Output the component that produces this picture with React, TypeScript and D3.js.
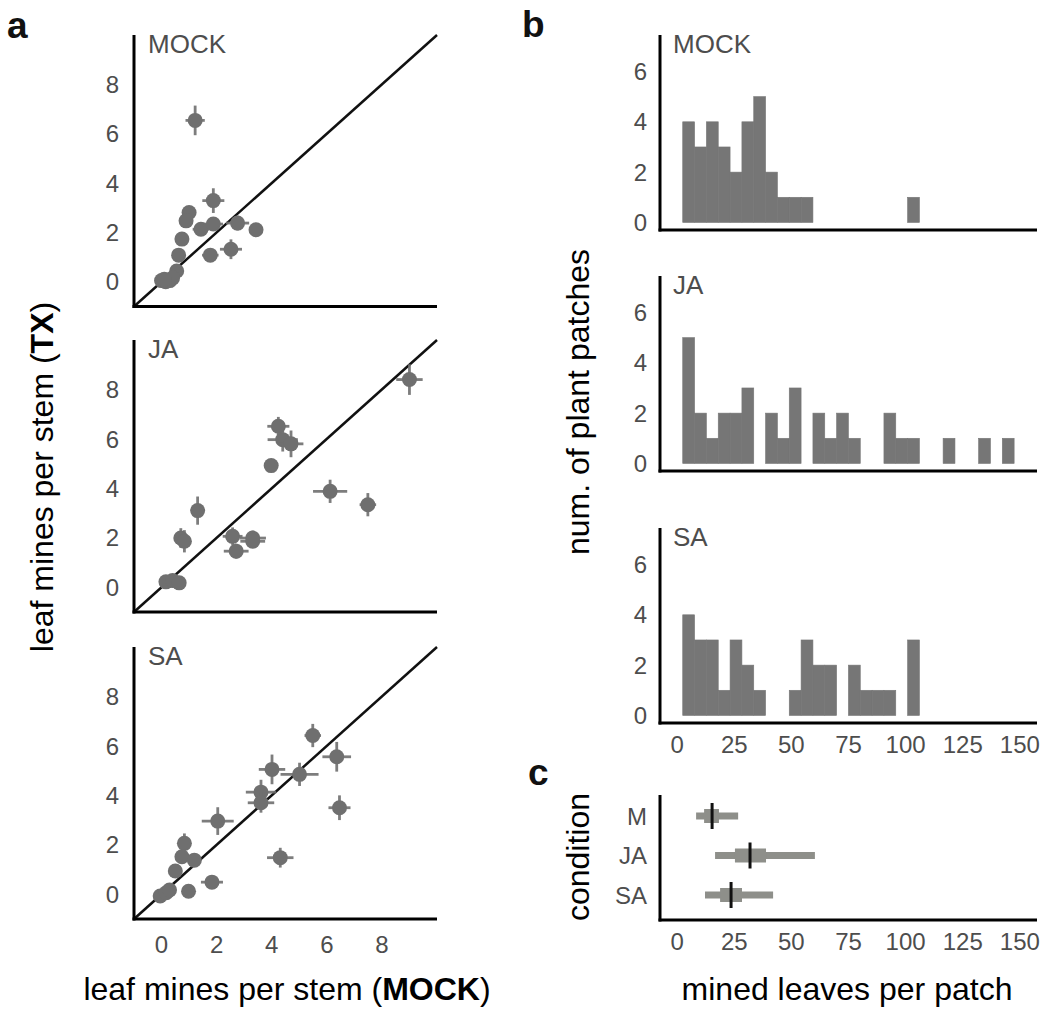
import React from "react";
import * as d3 from "d3";

// ---------- DATA ----------
// panel a: leaf mines per stem, MOCK (x) vs treatment (y), with error bars
const MOCK_X = [1.22, 1.88, 1.0, 0.89, 1.43, 1.88, 2.76, 3.43, 0.74, 0.62, 1.77, 2.52, 0.55, 0.0, 0.15, 0.3, 0.4, 0.1];
const MOCK_Y = [6.54, 3.29, 2.81, 2.47, 2.13, 2.34, 2.38, 2.11, 1.73, 1.08, 1.08, 1.32, 0.44, 0.05, 0.0, 0.05, 0.15, 0.1];
const MOCK_XERR = [0.35, 0.4, 0.15, 0.12, 0.3, 0.35, 0.42, 0.25, 0.12, 0.1, 0.3, 0.4, 0.1, 0.1, 0.1, 0.1, 0.1, 0.05];
const MOCK_YERR = [0.6, 0.5, 0.2, 0.2, 0.2, 0.15, 0.3, 0.15, 0.2, 0.15, 0.12, 0.4, 0.12, 0.05, 0.05, 0.05, 0.1, 0.05];

const JA_X = [9.0, 4.24, 4.4, 4.7, 3.98, 6.12, 7.49, 1.31, 0.7, 0.83, 2.58, 3.31, 2.71, 3.31, 0.16, 0.4, 0.64];
const JA_Y = [8.4, 6.51, 5.97, 5.8, 4.92, 3.88, 3.34, 3.1, 1.99, 1.86, 2.06, 1.99, 1.46, 1.86, 0.22, 0.27, 0.18];
const JA_XERR = [0.48, 0.4, 0.55, 0.45, 0.2, 0.62, 0.3, 0.15, 0.2, 0.2, 0.36, 0.48, 0.45, 0.45, 0.1, 0.1, 0.1];
const JA_YERR = [0.62, 0.38, 0.48, 0.54, 0.2, 0.47, 0.47, 0.57, 0.4, 0.45, 0.36, 0.3, 0.3, 0.2, 0.1, 0.1, 0.1];

const SA_X = [5.49, 6.36, 4.01, 5.01, 3.61, 3.61, 6.46, 2.04, 0.83, 0.74, 1.19, 4.31, 0.5, 1.83, 0.98, -0.05, 0.17, 0.29];
const SA_Y = [6.42, 5.56, 5.05, 4.85, 4.13, 3.7, 3.5, 2.96, 2.06, 1.52, 1.38, 1.48, 0.94, 0.49, 0.12, -0.07, 0.06, 0.17];
const SA_XERR = [0.3, 0.52, 0.48, 0.69, 0.55, 0.48, 0.4, 0.58, 0.15, 0.15, 0.15, 0.48, 0.1, 0.4, 0.1, 0.1, 0.1, 0.1];
const SA_YERR = [0.47, 0.6, 0.6, 0.47, 0.5, 0.4, 0.5, 0.56, 0.4, 0.25, 0.2, 0.4, 0.15, 0.15, 0.1, 0.05, 0.05, 0.05];

const SCATTER_TICKS = [0, 2, 4, 6, 8];

// panel b: histogram counts per bin (mined leaves per patch)
const BIN_START = 2.45;
const BIN_WIDTH = 5.18;
const MOCK_COUNTS = [4, 3, 4, 3, 2, 4, 5, 2, 1, 1, 1, 0, 0, 0, 0, 0, 0, 0, 0, 1];
const JA_COUNTS = [5, 2, 1, 2, 2, 3, 0, 2, 1, 3, 0, 2, 1, 2, 1, 0, 0, 2, 1, 1, 0, 0, 1, 0, 0, 1, 0, 1];
const SA_COUNTS = [4, 3, 3, 1, 3, 2, 1, 0, 0, 1, 3, 2, 2, 0, 2, 1, 1, 1, 0, 3];
const HIST_YTICKS = [0, 2, 4, 6];
const HIST_XTICKS = [0, 25, 50, 75, 100, 125, 150];

// panel c: interval summaries
const COND = ["M", "JA", "SA"];
const MEDIAN = [15.3, 31.9, 23.6];
const INNER_LO = [11.8, 25.3, 18.8];
const INNER_HI = [18.3, 38.9, 28.4];
const OUTER_LO = [8.3, 16.6, 12.2];
const OUTER_HI = [26.7, 60.3, 42.0];

// ---------- STYLE ----------
const FONT = "'Liberation Sans', Arial, Helvetica, sans-serif";
const TICK_COLOR = "#4d4d4d";
const POINT_COLOR = "#6f6f6f";
const BAR_COLOR = "#767676";
const INTERVAL_COLOR = "#8e8f8a";
const TICK_SIZE = 24;
const TITLE_SIZE = 26;
const AXIS_TITLE_SIZE = 32;

type ScatterPanel = { name: string; x: number[]; y: number[]; xe: number[]; ye: number[]; top: number; bottom: number };

const scatterPanels: ScatterPanel[] = [
  { name: "MOCK", x: MOCK_X, y: MOCK_Y, xe: MOCK_XERR, ye: MOCK_YERR, top: 35, bottom: 306.5 },
  { name: "JA", x: JA_X, y: JA_Y, xe: JA_XERR, ye: JA_YERR, top: 340, bottom: 612 },
  { name: "SA", x: SA_X, y: SA_Y, xe: SA_XERR, ye: SA_YERR, top: 647, bottom: 919 },
];

const histPanels = [
  { name: "MOCK", counts: MOCK_COUNTS, top: 35, bottom: 230 },
  { name: "JA", counts: JA_COUNTS, top: 276, bottom: 471 },
  { name: "SA", counts: SA_COUNTS, top: 528, bottom: 723 },
];

const SC_LEFT = 134;
const SC_RIGHT = 437;
const H_LEFT = 660;
const H_RIGHT = 1037;

export default function App() {
  const xSc = d3.scaleLinear().domain([-1, 10]).range([SC_LEFT, SC_RIGHT]);
  const xH = d3.scaleLinear().domain([-7.5, 157.5]).range([H_LEFT, H_RIGHT]);

  const scatter = scatterPanels.map((p, pi) => {
    const yS = d3.scaleLinear().domain([-1, 10]).range([p.bottom, p.top]);
    const diag = d3.line<number>().x((v) => xSc(v)).y((v) => yS(v))([-1, 10]) || "";
    return (
      <g key={p.name}>
        <path d={diag} stroke="#111" strokeWidth={2.5} fill="none" />
        {p.x.map((xv, i) => (
          <g key={i}>
            <line x1={xSc(xv - p.xe[i])} x2={xSc(xv + p.xe[i])} y1={yS(p.y[i])} y2={yS(p.y[i])} stroke={POINT_COLOR} strokeWidth={2.8} opacity={0.9} />
            <line x1={xSc(xv)} x2={xSc(xv)} y1={yS(p.y[i] - p.ye[i])} y2={yS(p.y[i] + p.ye[i])} stroke={POINT_COLOR} strokeWidth={2.8} opacity={0.9} />
            <circle cx={xSc(xv)} cy={yS(p.y[i])} r={7.5} fill={POINT_COLOR} />
          </g>
        ))}
        <line x1={SC_LEFT} x2={SC_LEFT} y1={p.top} y2={p.bottom + 1.5} stroke="#000" strokeWidth={3} />
        <line x1={SC_LEFT - 1.5} x2={SC_RIGHT} y1={p.bottom} y2={p.bottom} stroke="#000" strokeWidth={3} />
        {SCATTER_TICKS.map((t) => (
          <text key={t} x={SC_LEFT - 15} y={yS(t)} dy="0.36em" textAnchor="end" fontSize={TICK_SIZE} fill={TICK_COLOR}>{t}</text>
        ))}
        <text x={148} y={p.top + 18} fontSize={TITLE_SIZE} fill={TICK_COLOR}>{p.name}</text>
        {pi === 2 && SCATTER_TICKS.map((t) => (
          <text key={"x" + t} x={xSc(t)} y={p.bottom + 34} textAnchor="middle" fontSize={TICK_SIZE} fill={TICK_COLOR}>{t}</text>
        ))}
      </g>
    );
  });

  const hists = histPanels.map((p, pi) => {
    const yH = d3.scaleLinear().domain([-0.3, 7.45]).range([p.bottom, p.top]);
    return (
      <g key={p.name}>
        {p.counts.map((c, i) =>
          c > 0 ? (
            <rect key={i} x={xH(BIN_START + i * BIN_WIDTH)} width={xH(BIN_START + (i + 1) * BIN_WIDTH) - xH(BIN_START + i * BIN_WIDTH)} y={yH(c)} height={yH(0) - yH(c)} fill={BAR_COLOR} stroke={BAR_COLOR} strokeWidth={0.6} />
          ) : null
        )}
        <line x1={H_LEFT} x2={H_LEFT} y1={p.top} y2={p.bottom + 1.5} stroke="#000" strokeWidth={3} />
        <line x1={H_LEFT - 1.5} x2={H_RIGHT} y1={p.bottom} y2={p.bottom} stroke="#000" strokeWidth={3} />
        {HIST_YTICKS.map((t) => (
          <text key={t} x={H_LEFT - 13} y={yH(t)} dy="0.36em" textAnchor="end" fontSize={TICK_SIZE} fill={TICK_COLOR}>{t}</text>
        ))}
        <text x={673} y={p.top + 18} fontSize={TITLE_SIZE} fill={TICK_COLOR}>{p.name}</text>
        {pi === 2 && HIST_XTICKS.map((t) => (
          <text key={"x" + t} x={xH(t)} y={p.bottom + 30} textAnchor="middle" fontSize={TICK_SIZE} fill={TICK_COLOR}>{t}</text>
        ))}
      </g>
    );
  });

  const C_TOP = 795;
  const C_BOTTOM = 920;
  const yC = d3.scalePoint<string>().domain(COND).range([816, 895]);

  return (
    <svg width={1050} height={1017} style={{ position: "absolute", left: 0, top: 0, display: "block" }} fontFamily={FONT}>
      <rect width={1050} height={1017} fill="#fff" />
      <text x={7} y={38} fontSize={37} fontWeight="bold" fill="#111">a</text>
      <text x={522} y={37} fontSize={37} fontWeight="bold" fill="#111">b</text>
      <text x={528} y={785} fontSize={37} fontWeight="bold" fill="#111">c</text>

      {scatter}
      <text x={287} y={1000} textAnchor="middle" fontSize={AXIS_TITLE_SIZE} fill="#000">
        leaf mines per stem (<tspan fontWeight="bold">MOCK</tspan>)
      </text>
      <text transform="translate(53,477) rotate(-90)" textAnchor="middle" fontSize={AXIS_TITLE_SIZE} fill="#000">
        leaf mines per stem (<tspan fontWeight="bold">TX</tspan>)
      </text>

      {hists}
      <text transform="translate(589,402) rotate(-90)" textAnchor="middle" fontSize={AXIS_TITLE_SIZE} fill="#000">num. of plant patches</text>

      {/* panel c */}
      {COND.map((c, i) => {
        const y = yC(c) as number;
        return (
          <g key={c}>
            <line x1={xH(OUTER_LO[i])} x2={xH(OUTER_HI[i])} y1={y} y2={y} stroke={INTERVAL_COLOR} strokeWidth={7} />
            <line x1={xH(INNER_LO[i])} x2={xH(INNER_HI[i])} y1={y} y2={y} stroke={INTERVAL_COLOR} strokeWidth={14} />
            <line x1={xH(MEDIAN[i])} x2={xH(MEDIAN[i])} y1={y - 13} y2={y + 13} stroke="#111" strokeWidth={3} />
            <text x={H_LEFT - 13} y={y} dy="0.36em" textAnchor="end" fontSize={TICK_SIZE} fill={TICK_COLOR}>{c}</text>
          </g>
        );
      })}
      <line x1={H_LEFT} x2={H_LEFT} y1={C_TOP} y2={C_BOTTOM + 1.5} stroke="#000" strokeWidth={3} />
      <line x1={H_LEFT - 1.5} x2={H_RIGHT} y1={C_BOTTOM} y2={C_BOTTOM} stroke="#000" strokeWidth={3} />
      {HIST_XTICKS.map((t) => (
        <text key={"cx" + t} x={xH(t)} y={C_BOTTOM + 30} textAnchor="middle" fontSize={TICK_SIZE} fill={TICK_COLOR}>{t}</text>
      ))}
      <text x={847} y={1000} textAnchor="middle" fontSize={AXIS_TITLE_SIZE} fill="#000">mined leaves per patch</text>
      <text transform="translate(589,857) rotate(-90)" textAnchor="middle" fontSize={AXIS_TITLE_SIZE} fill="#000">condition</text>
    </svg>
  );
}
